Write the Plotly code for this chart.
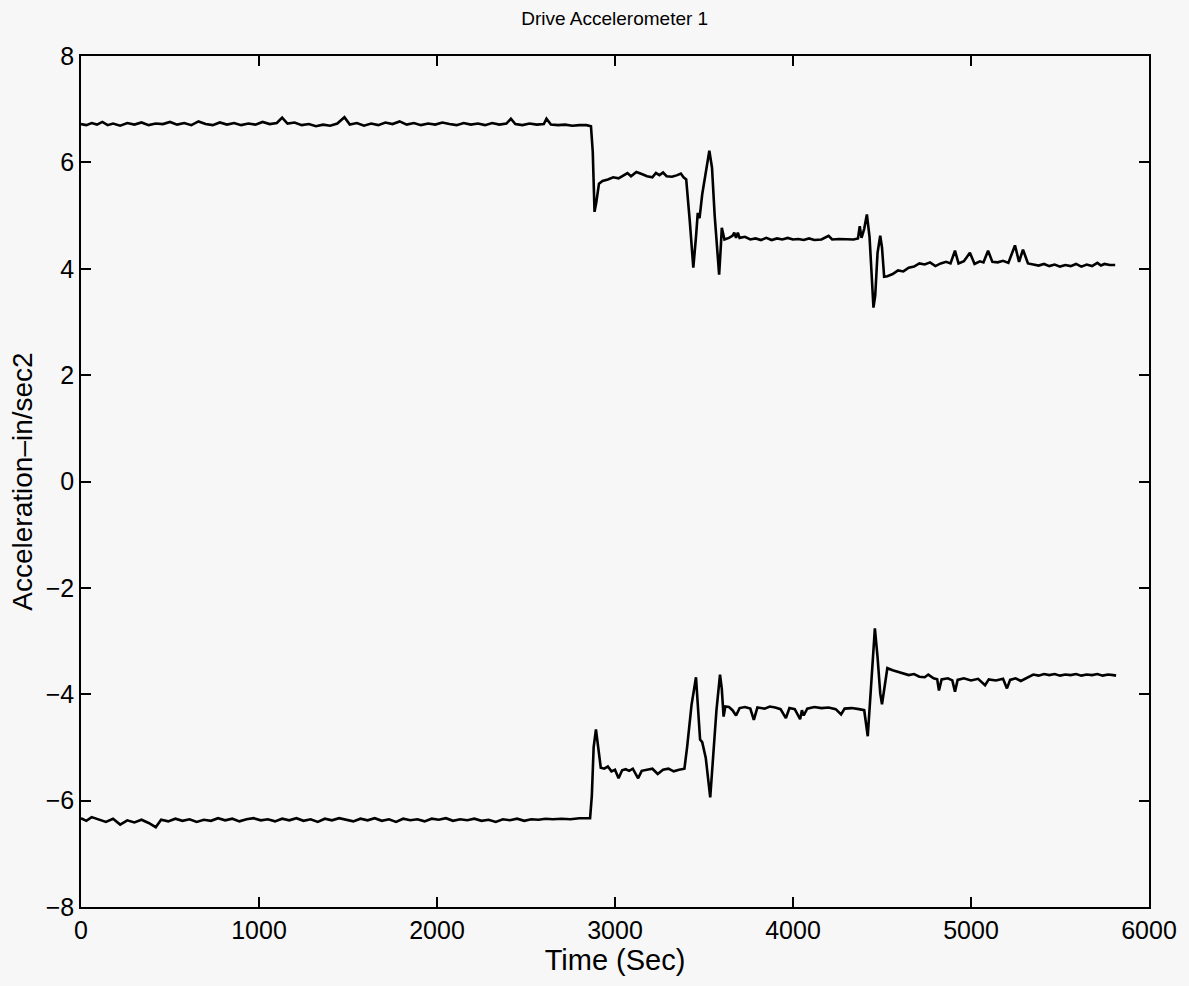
import plotly.graph_objects as go

# Upper trace (time in sec, acceleration in in/sec2)
top_x = [0, 30, 60, 90, 120, 150, 180, 220, 260, 300, 340, 380, 420, 460, 500, 540, 580, 620, 660, 700,
         740, 780, 820, 860, 900, 940, 980, 1020, 1060, 1100, 1130, 1160, 1200, 1240, 1280, 1320, 1360, 1400,
         1440, 1480, 1510, 1550, 1590, 1630, 1670, 1710, 1750, 1790, 1830, 1870, 1910, 1950, 1990, 2030,
         2070, 2110, 2150, 2190, 2230, 2270, 2310, 2350, 2390, 2415, 2440, 2480, 2520, 2560, 2600, 2615,
         2640, 2680, 2720, 2760, 2800, 2840, 2865, 2875, 2885, 2895, 2910, 2930, 2960, 2990, 3020, 3050,
         3070, 3090, 3120, 3150, 3180, 3210, 3230, 3250, 3270, 3290, 3320, 3350, 3370, 3385, 3400, 3420,
         3440, 3455, 3465, 3475, 3490, 3530, 3545, 3560, 3575, 3585, 3595, 3600, 3615, 3640, 3660, 3670,
         3680, 3690, 3700, 3730, 3760, 3790, 3820, 3850, 3880, 3910, 3940, 3970, 4000, 4030, 4060, 4090,
         4120, 4160, 4200, 4220, 4260, 4300, 4340, 4365, 4375, 4385, 4400, 4415, 4430, 4440, 4452, 4462,
         4475, 4490, 4500, 4512, 4530, 4560, 4590, 4620, 4650, 4680, 4710, 4740, 4770, 4800, 4830, 4860,
         4885, 4910, 4930, 4960, 4994, 5020, 5050, 5070, 5096, 5120, 5150, 5180, 5210, 5247, 5270, 5292,
         5320, 5350, 5380, 5410, 5440, 5470, 5500, 5530, 5560, 5590, 5620, 5650, 5680, 5710, 5730, 5750,
         5780, 5810]
top_y = [6.72, 6.70, 6.74, 6.71, 6.76, 6.70, 6.73, 6.69, 6.74, 6.71, 6.75, 6.70, 6.73, 6.72, 6.76, 6.71,
         6.74, 6.70, 6.77, 6.72, 6.70, 6.75, 6.71, 6.74, 6.70, 6.73, 6.71, 6.76, 6.72, 6.74, 6.84, 6.73,
         6.75, 6.70, 6.72, 6.68, 6.71, 6.69, 6.73, 6.85, 6.71, 6.74, 6.69, 6.73, 6.70, 6.75, 6.72, 6.77,
         6.71, 6.74, 6.70, 6.73, 6.71, 6.75, 6.72, 6.70, 6.74, 6.71, 6.73, 6.70, 6.74, 6.71, 6.73, 6.82,
         6.72, 6.70, 6.73, 6.71, 6.72, 6.82, 6.71, 6.70, 6.71, 6.69, 6.70, 6.70, 6.68, 6.20, 5.07, 5.25,
         5.60, 5.65, 5.68, 5.72, 5.70, 5.76, 5.80, 5.74, 5.82, 5.78, 5.74, 5.72, 5.80, 5.76, 5.81, 5.74,
         5.73, 5.76, 5.79, 5.72, 5.68, 4.90, 4.02, 4.60, 5.05, 4.95, 5.40, 6.22, 5.90, 5.00, 4.40, 3.89,
         4.45, 4.77, 4.55, 4.58, 4.62, 4.68, 4.58, 4.68, 4.58, 4.60, 4.55, 4.57, 4.54, 4.58, 4.54, 4.57,
         4.55, 4.58, 4.55, 4.56, 4.54, 4.57, 4.54, 4.55, 4.62, 4.55, 4.56, 4.55, 4.55, 4.57, 4.80, 4.58,
         4.75, 5.02, 4.60, 4.00, 3.27, 3.50, 4.30, 4.62, 4.40, 3.85, 3.86, 3.90, 3.97, 3.95, 4.02, 4.04,
         4.10, 4.08, 4.12, 4.05, 4.10, 4.13, 4.10, 4.34, 4.10, 4.14, 4.30, 4.09, 4.14, 4.12, 4.34, 4.13,
         4.12, 4.15, 4.11, 4.44, 4.13, 4.36, 4.10, 4.08, 4.06, 4.09, 4.05, 4.08, 4.04, 4.07, 4.05, 4.09,
         4.04, 4.08, 4.05, 4.11, 4.06, 4.09, 4.07, 4.07]

# Lower trace
bot_x = [0, 30, 60, 100, 140, 180, 220, 260, 300, 340, 380, 420, 450, 490, 530, 570, 610, 650, 690, 730,
         770, 810, 850, 890, 930, 970, 1010, 1050, 1090, 1130, 1170, 1210, 1250, 1290, 1330, 1370, 1410,
         1450, 1490, 1530, 1570, 1610, 1650, 1690, 1730, 1770, 1810, 1850, 1890, 1930, 1970, 2010, 2050,
         2090, 2130, 2170, 2210, 2250, 2290, 2330, 2370, 2410, 2450, 2490, 2530, 2570, 2610, 2650, 2700,
         2750, 2800, 2860, 2870, 2880, 2893, 2905, 2920, 2940, 2960, 2980, 3000, 3020, 3040, 3060, 3080,
         3100, 3130, 3150, 3180, 3210, 3240, 3270, 3300, 3330, 3360, 3390, 3405, 3430, 3455, 3465, 3478,
         3490, 3510, 3535, 3550, 3570, 3590, 3600, 3610, 3620, 3640, 3660, 3680, 3700, 3730, 3760, 3780,
         3800, 3840, 3870, 3900, 3930, 3960, 3980, 4010, 4040, 4050, 4060, 4080, 4120, 4160, 4200, 4240,
         4270, 4290, 4330, 4370, 4400, 4420, 4440, 4460, 4475, 4490, 4500, 4515, 4530, 4560, 4590, 4620,
         4650, 4680, 4710, 4740, 4760, 4790, 4810, 4820, 4835, 4870, 4895, 4910, 4925, 4960, 5000, 5040,
         5079, 5100, 5140, 5180, 5202, 5220, 5250, 5280, 5300, 5330, 5350, 5380, 5410, 5440, 5470, 5500,
         5530, 5560, 5590, 5620, 5650, 5680, 5710, 5740, 5770, 5800, 5815]
bot_y = [-6.33, -6.38, -6.31, -6.36, -6.40, -6.34, -6.45, -6.37, -6.41, -6.36, -6.42, -6.50, -6.36, -6.39,
         -6.34, -6.38, -6.35, -6.40, -6.36, -6.38, -6.33, -6.37, -6.34, -6.39, -6.35, -6.33, -6.37, -6.35,
         -6.39, -6.34, -6.37, -6.33, -6.38, -6.35, -6.40, -6.34, -6.37, -6.33, -6.36, -6.39, -6.34, -6.37,
         -6.33, -6.38, -6.35, -6.40, -6.34, -6.37, -6.35, -6.39, -6.34, -6.36, -6.33, -6.38, -6.35, -6.37,
         -6.34, -6.38, -6.36, -6.40, -6.35, -6.37, -6.34, -6.38, -6.35, -6.36, -6.34, -6.35, -6.34, -6.35,
         -6.33, -6.33, -5.90, -5.00, -4.66, -4.95, -5.38, -5.40, -5.36, -5.45, -5.42, -5.58, -5.43, -5.41,
         -5.44, -5.40, -5.58, -5.44, -5.42, -5.40, -5.50, -5.42, -5.40, -5.45, -5.42, -5.40, -5.00, -4.20,
         -3.68, -4.20, -4.85, -4.90, -5.20, -5.94, -5.30, -4.30, -3.63, -3.90, -4.42, -4.23, -4.24, -4.30,
         -4.40, -4.26, -4.24, -4.27, -4.48, -4.25, -4.27, -4.23, -4.25, -4.28, -4.45, -4.26, -4.28, -4.47,
         -4.30, -4.40, -4.27, -4.24, -4.26, -4.25, -4.28, -4.38, -4.27, -4.26, -4.28, -4.30, -4.79, -3.80,
         -2.76, -3.30, -3.98, -4.19, -3.80, -3.51, -3.55, -3.58, -3.60, -3.64, -3.62, -3.67, -3.68, -3.63,
         -3.70, -3.72, -3.93, -3.72, -3.70, -3.74, -3.95, -3.73, -3.70, -3.74, -3.71, -3.83, -3.72, -3.74,
         -3.71, -3.89, -3.73, -3.70, -3.75, -3.72, -3.66, -3.63, -3.65, -3.62, -3.64, -3.62, -3.65, -3.63,
         -3.64, -3.62, -3.65, -3.63, -3.64, -3.62, -3.65, -3.63, -3.64, -3.65]

x_ticks = [0, 1000, 2000, 3000, 4000, 5000, 6000]
y_ticks = [-8, -6, -4, -2, 0, 2, 4, 6, 8]

BG = "#f7f7f7"
FONT = "Liberation Sans, Arial, Helvetica, sans-serif"

fig = go.Figure()
for xs, ys in ((top_x, top_y), (bot_x, bot_y)):
    fig.add_trace(go.Scatter(x=xs, y=ys, mode="lines",
                             line=dict(color="black", width=2.6), showlegend=False,
                             hoverinfo="skip"))

axis_common = dict(showline=True, linecolor="black", linewidth=1.5, mirror="ticks",
                   ticks="inside", ticklen=10, tickwidth=1.5, tickcolor="black",
                   showgrid=False, zeroline=False,
                   tickfont=dict(family=FONT, size=25, color="black"))

fig.update_xaxes(range=[0, 6000], tickvals=x_ticks,
                 title=dict(text="Time (Sec)", font=dict(family=FONT, size=29, color="black"), standoff=0),
                 **axis_common)
fig.update_yaxes(range=[-8, 8], tickvals=y_ticks,
                 title=dict(text="Acceleration\u2013in/sec2", font=dict(family=FONT, size=28, color="black"), standoff=5),
                 **axis_common)

fig.update_layout(
    width=1189, height=986,
    paper_bgcolor=BG, plot_bgcolor=BG,
    margin=dict(l=81, r=40, t=56, b=79),
    title=dict(text="Drive Accelerometer 1", x=0.517, xanchor="center",
               y=1 - 18 / 986, yanchor="middle", yref="container",
               font=dict(family=FONT, size=19, color="black")),
)

fig.write_html("out.html", config={"displayModeBar": False},
               post_script="document.body.style.margin='0';document.body.style.background='#f7f7f7';")
